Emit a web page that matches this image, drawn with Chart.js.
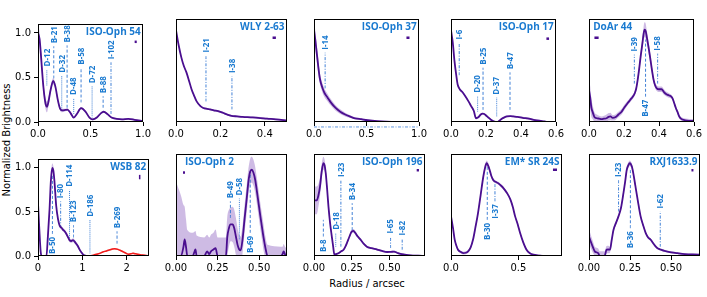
<!DOCTYPE html>
<html><head><meta charset="utf-8">
<script src="https://cdn.jsdelivr.net/npm/chart.js@4.4.0/dist/chart.umd.min.js"></script>
<style>
html,body{margin:0;padding:0;background:#fff;width:707px;height:297px;overflow:hidden;position:relative;}
canvas{position:absolute;}
.lab{position:absolute;font:10px 'DejaVu Sans';color:#000;white-space:nowrap;transform:translate(-50%,-50%);}
#ylab{transform:translate(-50%,-50%) rotate(-90deg);}
</style></head><body>
<div class="lab" id="ylab" style="left:6px;top:140px">Normalized Brightness</div>
<div class="lab" id="xlab" style="left:367px;top:283px">Radius / arcsec</div>
<script>
// ---------- DATA ----------
const titles = ["ISO-Oph 54","WLY 2-63","ISO-Oph 37","ISO-Oph 17","DoAr 44","WSB 82","ISO-Oph 2","ISO-Oph 196","EM* SR 24S","RXJ1633.9"];
const xMax = [1.0, 0.5, 1.0, 0.6, 0.6, 2.5, 0.667, 0.735, 0.823, 0.676];
const xTickVals = [[0,0.5,1],[0,0.2,0.4],[0,0.5,1],[0,0.2,0.4,0.6],[0,0.2,0.4,0.6],[0,1,2],[0,0.25,0.5],[0,0.25,0.5],[0,0.5],[0,0.25,0.5]];
const xTickLabels = [["0.0","0.5","1.0"],["0.0","0.2","0.4"],["0.0","0.5","1.0"],["0.0","0.2","0.4","0.6"],["0.0","0.2","0.4","0.6"],["0","1","2"],["0.00","0.25","0.50"],["0.00","0.25","0.50"],["0.0","0.5"],["0.00","0.25","0.50"]];
const yTickVals = [0, 0.5, 1.0];
const yTickLabels = ["0.0","0.5","1.0"];

// radius (arcsec), normalized brightness, uncertainty
const r1 = [0,0.015,0.03,0.045,0.06,0.075,0.085,0.1,0.12,0.145,0.165,0.19,0.21,0.23,0.26,0.28,0.31,0.34,0.37,0.41,0.45,0.49,0.52,0.56,0.6,0.625,0.66,0.7,0.75,0.8,0.86,0.92,1.0];
const b1 = [1.0,0.93,0.72,0.48,0.3,0.19,0.17,0.23,0.36,0.46,0.4,0.24,0.15,0.13,0.135,0.14,0.1,0.05,0.09,0.155,0.12,0.05,0.03,0.05,0.1,0.115,0.09,0.05,0.035,0.03,0.035,0.025,0.01];
const e1 = [0.08,0.08,0.07,0.06,0.06,0.06,0.06,0.05,0.04,0.035,0.03,0.03,0.02,0.02,0.015,0.015,0.012,0.01,0.01,0.012,0.01,0.01,0.01,0.01,0.01,0.01,0.01,0.01,0.01,0.01,0.01,0.01,0.01];

const r2 = [0,0.012,0.024,0.035,0.047,0.06,0.07,0.08,0.093,0.11,0.123,0.14,0.153,0.17,0.19,0.21,0.23,0.25,0.275,0.3,0.336,0.37,0.41,0.45,0.5];
const b2 = [0.98,0.82,0.69,0.6,0.53,0.43,0.35,0.29,0.22,0.17,0.15,0.14,0.135,0.125,0.115,0.1,0.08,0.065,0.06,0.055,0.05,0.045,0.036,0.028,0.015];
const e2 = [0.02,0.015,0.012,0.01,0.01,0.01,0.01,0.01,0.01,0.01,0.01,0.01,0.01,0.01,0.01,0.01,0.01,0.01,0.01,0.01,0.01,0.01,0.01,0.01,0.01];

const r3 = [0,0.012,0.024,0.04,0.055,0.07,0.085,0.1,0.13,0.16,0.206,0.25,0.297,0.34,0.39,0.45,0.51,0.6,0.69,0.8,0.9,1.0];
const b3 = [0.98,0.88,0.76,0.6,0.47,0.4,0.35,0.31,0.26,0.21,0.15,0.11,0.08,0.06,0.04,0.03,0.02,0.01,0.005,0.002,0.001,0.0];
const e3 = [0.1,0.1,0.09,0.08,0.06,0.05,0.05,0.045,0.04,0.035,0.03,0.025,0.02,0.015,0.01,0.01,0.008,0.005,0.004,0.003,0.002,0.002];

const r4 = [0,0.01,0.02,0.03,0.038,0.05,0.065,0.08,0.1,0.115,0.13,0.143,0.156,0.17,0.18,0.19,0.2,0.215,0.228,0.24,0.255,0.265,0.274,0.29,0.305,0.32,0.34,0.355,0.38,0.41,0.445,0.48,0.52,0.554,0.6];
const b4 = [0.98,0.85,0.65,0.5,0.4,0.35,0.32,0.28,0.22,0.17,0.12,0.04,0.05,0.08,0.09,0.085,0.07,0.045,0.025,0.01,0.0,0.0,0.01,0.035,0.05,0.06,0.063,0.06,0.055,0.045,0.035,0.02,0.01,0.0,0.0];
const e4 = [0.02,0.015,0.012,0.01,0.01,0.01,0.01,0.01,0.01,0.01,0.01,0.01,0.01,0.01,0.01,0.01,0.01,0.01,0.01,0.01,0.01,0.01,0.01,0.01,0.01,0.01,0.01,0.01,0.01,0.01,0.01,0.01,0.01,0.01,0.01];

const r5 = [0,0.007,0.013,0.022,0.031,0.045,0.058,0.072,0.086,0.1,0.112,0.122,0.135,0.15,0.168,0.186,0.2,0.22,0.235,0.25,0.262,0.27,0.278,0.286,0.295,0.305,0.311,0.317,0.324,0.33,0.34,0.35,0.36,0.369,0.378,0.387,0.4,0.414,0.428,0.44,0.455,0.47,0.48,0.487,0.496,0.505,0.515,0.525,0.55,0.575,0.6];
const b5 = [0.34,0.26,0.16,0.1,0.054,0.04,0.036,0.03,0.036,0.04,0.055,0.06,0.045,0.05,0.08,0.11,0.15,0.2,0.235,0.27,0.31,0.36,0.45,0.56,0.7,0.84,0.93,0.985,0.97,0.91,0.8,0.68,0.55,0.45,0.39,0.36,0.35,0.35,0.32,0.3,0.285,0.27,0.24,0.2,0.15,0.11,0.06,0.036,0.018,0.012,0.01];
const e5 = [0.12,0.12,0.1,0.07,0.05,0.04,0.03,0.03,0.03,0.04,0.04,0.04,0.03,0.03,0.03,0.03,0.03,0.025,0.025,0.025,0.025,0.03,0.035,0.04,0.05,0.06,0.07,0.08,0.08,0.07,0.06,0.05,0.04,0.035,0.03,0.03,0.03,0.03,0.03,0.025,0.025,0.02,0.02,0.02,0.02,0.02,0.02,0.02,0.02,0.02,0.02];

const r6 = [0,0.03,0.06,0.08,0.19,0.22,0.26,0.29,0.32,0.345,0.37,0.41,0.45,0.49,0.53,0.56,0.6,0.64,0.68,0.71,0.75,0.79,0.83,0.86,0.9,0.94,0.98,1.02,1.09];
const b6 = [0.6,0.3,0.05,0,0,0.2,0.53,0.85,1.0,0.97,0.85,0.57,0.42,0.34,0.32,0.3,0.28,0.25,0.21,0.18,0.17,0.18,0.16,0.14,0.11,0.07,0.04,0.014,0];
const e6 = [0.03,0.02,0.02,0.01,0.01,0.02,0.03,0.04,0.05,0.05,0.04,0.03,0.02,0.02,0.02,0.02,0.02,0.02,0.02,0.02,0.02,0.02,0.02,0.02,0.02,0.02,0.01,0.01,0.01];
const r6red = [1.17,1.25,1.32,1.39,1.46,1.54,1.62,1.68,1.73,1.8,1.88,1.95,2.03,2.09,2.14,2.2,2.3,2.4,2.5];
const b6red = [0,0.01,0.02,0.03,0.045,0.057,0.07,0.08,0.082,0.075,0.057,0.04,0.02,0.025,0.03,0.025,0.014,0.008,0];
const e6red = [0.01,0.01,0.01,0.01,0.01,0.01,0.01,0.01,0.01,0.01,0.01,0.01,0.01,0.01,0.01,0.01,0.01,0.01,0.01];

const r7 = [0,0.03,0.045,0.052,0.06,0.068,0.1,0.11,0.117,0.124,0.17,0.187,0.2,0.21,0.225,0.238,0.25,0.3,0.308,0.318,0.328,0.34,0.35,0.36,0.37,0.38,0.388,0.4,0.412,0.425,0.435,0.446,0.455,0.465,0.476,0.486,0.496,0.506,0.516,0.526,0.536,0.55,0.63,0.64,0.647,0.655,0.667];
const b7 = [0,0,0.1,0.18,0.1,0,0,0.04,0.07,0,0,0.05,0.02,0.05,0.07,0.085,0,0,0.2,0.3,0.34,0.34,0.3,0.21,0.12,0.07,0.06,0.18,0.4,0.62,0.8,0.91,0.93,0.9,0.82,0.7,0.57,0.44,0.32,0.2,0.1,0,0,0.02,0.05,0.02,0];
const e7 = [0.8,0.65,0.45,0.35,0.3,0.28,0.25,0.22,0.2,0.22,0.2,0.18,0.18,0.18,0.18,0.2,0.2,0.2,0.22,0.2,0.18,0.19,0.2,0.2,0.18,0.16,0.15,0.15,0.15,0.15,0.14,0.14,0.14,0.14,0.14,0.14,0.14,0.14,0.14,0.14,0.12,0.12,0.1,0.08,0.08,0.08,0.08];

const r8 = [0,0.018,0.03,0.04,0.05,0.062,0.07,0.078,0.087,0.096,0.107,0.118,0.127,0.135,0.145,0.162,0.18,0.196,0.21,0.218,0.235,0.25,0.262,0.273,0.29,0.307,0.33,0.35,0.38,0.418,0.45,0.484,0.51,0.53,0.55,0.573,0.6,0.64,0.69,0.735];
const b8 = [0.6,0.6,0.66,0.75,0.9,1.0,0.98,0.89,0.72,0.53,0.35,0.21,0.1,0.014,0.02,0.03,0.05,0.068,0.11,0.14,0.21,0.265,0.27,0.25,0.21,0.18,0.13,0.1,0.085,0.07,0.055,0.043,0.045,0.047,0.035,0.022,0.015,0.007,0.003,0];
const e8 = [0.15,0.15,0.12,0.1,0.08,0.07,0.06,0.05,0.04,0.03,0.02,0.02,0.015,0.01,0.01,0.01,0.01,0.01,0.015,0.015,0.02,0.02,0.02,0.02,0.015,0.015,0.01,0.01,0.01,0.01,0.01,0.01,0.01,0.01,0.01,0.01,0.01,0.01,0.01,0.01];

const r9 = [0,0.015,0.027,0.04,0.052,0.07,0.09,0.11,0.127,0.145,0.164,0.18,0.2,0.22,0.24,0.252,0.264,0.277,0.29,0.3,0.313,0.33,0.35,0.37,0.39,0.415,0.44,0.46,0.475,0.495,0.512,0.535,0.56,0.585,0.61,0.65,0.687,0.75,0.823];
const b9 = [0.43,0.3,0.18,0.11,0.068,0.045,0.032,0.035,0.05,0.09,0.18,0.3,0.46,0.66,0.86,0.95,1.0,0.97,0.91,0.86,0.82,0.8,0.785,0.76,0.73,0.68,0.61,0.52,0.43,0.34,0.25,0.15,0.068,0.03,0.014,0.005,0,0,0];
const e9 = [0.02,0.015,0.015,0.015,0.015,0.015,0.015,0.015,0.015,0.015,0.015,0.015,0.02,0.02,0.025,0.03,0.03,0.03,0.025,0.02,0.02,0.015,0.015,0.015,0.015,0.015,0.015,0.015,0.015,0.015,0.015,0.015,0.015,0.01,0.01,0.01,0.01,0.01,0.01];

const r10 = [0,0.014,0.025,0.035,0.046,0.056,0.066,0.08,0.095,0.107,0.118,0.128,0.138,0.149,0.165,0.18,0.195,0.21,0.22,0.23,0.24,0.248,0.255,0.262,0.272,0.283,0.298,0.314,0.33,0.345,0.36,0.376,0.39,0.407,0.42,0.438,0.46,0.5,0.54,0.583,0.63,0.676];
const b10 = [0.21,0.14,0.09,0.05,0.04,0.03,0,0,0,0.068,0.07,0.068,0.17,0.28,0.36,0.43,0.52,0.68,0.8,0.93,0.98,1.0,0.99,0.96,0.87,0.75,0.59,0.43,0.33,0.25,0.2,0.175,0.14,0.1,0.08,0.068,0.055,0.04,0.03,0.021,0.016,0.014];
const e10 = [0.08,0.07,0.06,0.05,0.05,0.05,0.05,0.05,0.05,0.04,0.04,0.03,0.03,0.025,0.02,0.02,0.02,0.02,0.025,0.03,0.03,0.03,0.03,0.03,0.025,0.02,0.02,0.02,0.015,0.015,0.015,0.015,0.015,0.01,0.01,0.01,0.01,0.01,0.01,0.01,0.01,0.01];

// ring/gap features: name, radius (arcsec), lower & upper end of marker, label side (a = above, b = below)
const f1Names = ["D-12","B-21","D-32","B-38","D-48","B-58","D-72","B-88","I-102"];
const f1X  = [0.084,0.15,0.226,0.277,0.34,0.41,0.515,0.62,0.695];
const f1Lo = [0.41,0.49,0.14,0.16,0.09,0.22,0.05,0.16,0.09];
const f1Hi = [0.59,0.85,0.52,0.86,0.27,0.61,0.40,0.29,0.67];
const f1Side = ["a","a","a","a","a","a","a","a","a"];
const f2Names = ["I-21","I-38"];
const f2X  = [0.135,0.252];
const f2Lo = [0.22,0.135];
const f2Hi = [0.71,0.49];
const f2Side = ["a","a"];
const f3Names = ["I-14"];
const f3X  = [0.106];
const f3Lo = [0.36];
const f3Hi = [0.74];
const f3Side = ["a"];
const f4Names = ["I-6","D-20","B-25","D-37","B-47"];
const f4X  = [0.047,0.152,0.183,0.261,0.337];
const f4Lo = [0.5,0.11,0.13,0.06,0.13];
const f4Hi = [0.85,0.28,0.58,0.26,0.53];
const f4Side = ["a","a","a","a","a"];
const f5Names = ["I-39","B-47","I-58"];
const f5X  = [0.259,0.323,0.392];
const f5Lo = [0.41,0.27,0.41];
const f5Hi = [0.72,0.88,0.73];
const f5Side = ["a","b","a"];
const f6Names = ["B-50","I-80","D-114","B-123","D-186","B-269"];
const f6X  = [0.325,0.51,0.71,0.8,1.17,1.78];
const f6Lo = [0.25,0.32,0.18,0.21,0.03,0.14];
const f6Hi = [0.91,0.62,0.75,0.35,0.41,0.28];
const f6Side = ["b","a","a","a","a","a"];
const f7Names = ["B-49","D-58","B-69"];
const f7X  = [0.327,0.381,0.446];
const f7Lo = [0.41,0.18,0.25];
const f7Hi = [0.59,0.62,0.91];
const f7Side = ["a","a","b"];
const f8Names = ["B-8","D-18","I-23","B-34","I-65","I-82"];
const f8X  = [0.062,0.144,0.178,0.253,0.507,0.584];
const f8Lo = [0.21,0.1,0.1,0.28,0.086,0.068];
const f8Hi = [0.39,0.25,0.82,0.57,0.21,0.19];
const f8Side = ["b","a","a","a","a","a"];
const f9Names = ["B-30","I-37"];
const f9X  = [0.269,0.326];
const f9Lo = [0.39,0.59];
const f9Hi = [0.96,0.785];
const f9Side = ["b","b"];
const f10Names = ["I-23","B-36","I-62"];
const f10X  = [0.18,0.252,0.434];
const f10Lo = [0.48,0.3,0.1];
const f10Hi = [0.82,0.93,0.48];
const f10Side = ["a","b","a"];

// beam size markers
const beamX0 = [0.92,0.435,0.88,0.545,0.031,2.29,0.042,0.68,0.756,0.624];
const beamX1 = [0.94,0.45,0.909,0.56,0.055,2.29,0.054,0.695,0.786,0.636];
const beamY0 = [0.9,0.9,0.9,0.89,0.9,0.87,0.9,0.925,0.93,0.925];
const beamY1 = [0.9,0.9,0.9,0.89,0.9,0.92,0.9,0.925,0.93,0.925];

// ISO-Oph 37 baseline marker
const baseX = [0, 1.0];
const baseY = [-0.053, -0.053];

// ---------- LAYOUT / STYLE ----------
const profiles = [[r1,b1,e1],[r2,b2,e2],[r3,b3,e3],[r4,b4,e4],[r5,b5,e5],[r6,b6,e6],[r7,b7,e7],[r8,b8,e8],[r9,b9,e9],[r10,b10,e10]];
const feats = [[f1Names,f1X,f1Lo,f1Hi,f1Side],[f2Names,f2X,f2Lo,f2Hi,f2Side],[f3Names,f3X,f3Lo,f3Hi,f3Side],[f4Names,f4X,f4Lo,f4Hi,f4Side],[f5Names,f5X,f5Lo,f5Hi,f5Side],[f6Names,f6X,f6Lo,f6Hi,f6Side],[f7Names,f7X,f7Lo,f7Hi,f7Side],[f8Names,f8X,f8Lo,f8Hi,f8Side],[f9Names,f9X,f9Lo,f9Hi,f9Side],[f10Names,f10X,f10Lo,f10Hi,f10Side]];
const colL = [38,176,314,451,589];
const rowT = [19,154];
const PW = 111, PH = [103,102];
const titleAlign = ['r','r','r','r','l','r','l','r','r','r'];
const titleFrac = [0.978,0.978,0.978,0.978,0.04,0.975,0.08,0.978,0.978,0.978];
const PURPLE = '#4a0e8f';
const BAND = 'rgba(125,75,185,0.38)';
const RED = '#f21d1d';
const REDBAND = 'rgba(240,40,40,0.3)';
const FEAT = 'rgba(45,115,210,0.9)';
const LABEL = '#1a7ad0';
const dashes = {B:[3,2], D:[1,1], I:[3,1.5,1,1.5]};

function pts(xs, ys, es, sign){ return xs.map((x,i)=>({x:x, y: ys[i] + (es ? sign*es[i] : 0)})); }

function lineDS(data, color, width, extra){
  return Object.assign({type:'line', data:data, borderColor:color, borderWidth:width, pointRadius:0, fill:false, tension:0.4, cubicInterpolationMode:'monotone'}, extra||{});
}

for (let k=0;k<10;k++){
  const col = k%5, row = Math.floor(k/5);
  const L = colL[col], T = rowT[row], H = PH[row];
  const YW = 36, PADT = 4, PADR = 4, XH = 24;
  const cv = document.createElement('canvas');
  cv.width = PW + YW + PADR; cv.height = H + PADT + XH;
  cv.style.left = (L - YW) + 'px'; cv.style.top = (T - PADT) + 'px';
  cv.style.width = cv.width + 'px'; cv.style.height = cv.height + 'px';
  document.body.appendChild(cv);

  const [rx, by, ey] = profiles[k];
  const ds = [];
  ds.push(lineDS(pts(rx,by), PURPLE, 1.8));
  if (k===5) ds.push(lineDS(pts(r6red,b6red), RED, 1.5));
  ds.push(lineDS([{x:beamX0[k],y:beamY0[k]},{x:beamX1[k],y:beamY1[k]}], PURPLE, k===5?1.5:2.5, {tension:0, borderCapStyle:'butt'}));
  const [fn, fx, flo, fhi] = feats[k];
  fn.forEach((n,i)=>{
    ds.push(lineDS([{x:fx[i],y:flo[i]},{x:fx[i],y:fhi[i]}], FEAT, 1, {tension:0, borderDash:dashes[n[0]]}));
  });
  if (k===2) ds.push(lineDS(baseX.map((x,i)=>({x:x,y:baseY[i]})), 'rgba(80,140,220,0.9)', 1, {tension:0, borderDash:dashes.I, clip:false}));
  ds.push(lineDS(pts(rx,by,ey,1), 'rgba(0,0,0,0)', 0, {fill:'+1', backgroundColor:BAND}));
  ds.push(lineDS(pts(rx,by,ey,-1), 'rgba(0,0,0,0)', 0));
  if (k===5){
    ds.push(lineDS(pts(r6red,b6red,e6red,1), 'rgba(0,0,0,0)', 0, {fill:'+1', backgroundColor:REDBAND}));
    ds.push(lineDS(pts(r6red,b6red,e6red,-1), 'rgba(0,0,0,0)', 0));
  }

  const deco = {
    id:'deco'+k,
    afterDatasetsDraw(chart){
      const ctx = chart.ctx, a = chart.chartArea, xs = chart.scales.x, ys = chart.scales.y;
      ctx.save();
      // frame
      ctx.strokeStyle = '#000'; ctx.lineWidth = 1;
      ctx.strokeRect(Math.round(a.left)+0.5, Math.round(a.top)+0.5, Math.round(a.right-a.left)-1, Math.round(a.bottom-a.top)-1);
      // feature labels
      ctx.fillStyle = LABEL; ctx.font = "bold 8px 'Open Sans'"; ctx.textBaseline = 'middle';
      const [n2, x2, lo2, hi2, side2] = feats[k];
      n2.forEach((n,i)=>{
        const px = xs.getPixelForValue(x2[i]);
        ctx.save();
        if (side2[i]==='a'){
          ctx.translate(px, ys.getPixelForValue(hi2[i]) - 3);
          ctx.rotate(-Math.PI/2); ctx.textAlign = 'left';
        } else {
          ctx.translate(px, ys.getPixelForValue(lo2[i]) + 3);
          ctx.rotate(-Math.PI/2); ctx.textAlign = 'right';
        }
        ctx.fillText(n, 0, 0.5);
        ctx.restore();
      });
      // title
      ctx.font = "bold 10px 'Open Sans'";
      ctx.textAlign = titleAlign[k]==='r' ? 'right' : 'left';
      ctx.fillText(titles[k], a.left + titleFrac[k]*(a.right-a.left), a.top + 8.5);
      ctx.restore();
    }
  };

  new Chart(cv, {
    data:{datasets:ds},
    options:{
      responsive:false, animation:false, devicePixelRatio:1,
      layout:{padding:{top:PADT,right:PADR,left:0,bottom:0}},
      plugins:{legend:{display:false}, tooltip:{enabled:false}},
      scales:{
        x:{type:'linear', min:0, max:xMax[k],
          afterBuildTicks:(s)=>{ s.ticks = xTickVals[k].map(v=>({value:v})); },
          afterFit:(s)=>{ s.height = XH; },
          ticks:{callback:(v,i)=>xTickLabels[k][i], font:{family:'DejaVu Sans', size:10}, color:'#000', padding:2, maxRotation:0, autoSkip:false},
          grid:{display:true, drawOnChartArea:false, drawTicks:true, tickLength:4, color:'#000'},
          border:{display:false}},
        y:{type:'linear', min:0, max:1.1,
          afterBuildTicks:(s)=>{ s.ticks = yTickVals.map(v=>({value:v})); },
          afterFit:(s)=>{ s.width = YW; },
          ticks:{display: col===0, callback:(v,i)=>yTickLabels[i], font:{family:'DejaVu Sans', size:10}, color:'#000', padding:3},
          grid:{display: col===0, drawOnChartArea:false, drawTicks:true, tickLength:4, color:'#000'},
          border:{display:false}}
      }
    },
    plugins:[deco]
  });
}
</script>
</body></html>
